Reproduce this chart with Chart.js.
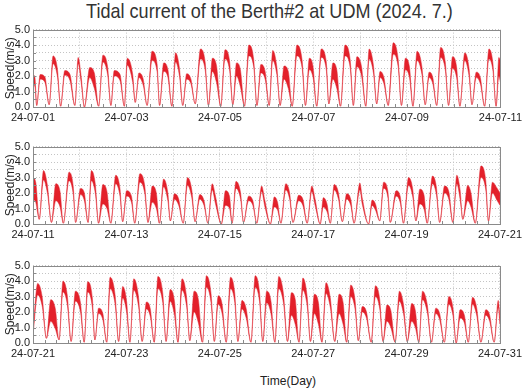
<!DOCTYPE html>
<html>
<head>
<meta charset="utf-8">
<script src="https://cdn.jsdelivr.net/npm/chart.js@4.4.0/dist/chart.umd.min.js"></script>
<style>
  html, body { margin: 0; padding: 0; background: #fff; }
  #page { position: relative; width: 526px; height: 391px; overflow: hidden; }
  .panel { position: absolute; left: 0; width: 526px; height: 107px; }
  #title {
    position: absolute; top: -1px; left: 33px; width: 473px; text-align: center;
    font-family: "Liberation Sans", Arial, sans-serif; font-size: 21px; color: #333;
    transform: scaleX(0.86); transform-origin: 236px 0;
  }
  #xlabel {
    position: absolute; top: 373px; left: 0; width: 576px; text-align: center;
    font-family: "Liberation Sans", Arial, sans-serif; font-size: 13px; color: #222;
    transform: scaleX(0.93); transform-origin: 288px 0;
  }
</style>
</head>
<body>
<div id="page">
  <div id="title">Tidal current of the Berth#2 at UDM (2024. 7.)</div>
  <div class="panel" style="top:20px"><canvas id="c1"></canvas></div>
  <div class="panel" style="top:137px"><canvas id="c2"></canvas></div>
  <div class="panel" style="top:256px"><canvas id="c3"></canvas></div>
  <div id="xlabel">Time(Day)</div>
</div>
<script>
// tick labels (one every 48 h)
const p1Labels = ['24-07-01', '24-07-03', '24-07-05', '24-07-07', '24-07-09', '24-07-11'];
const p2Labels = ['24-07-11', '24-07-13', '24-07-15', '24-07-17', '24-07-19', '24-07-21'];
const p3Labels = ['24-07-21', '24-07-23', '24-07-25', '24-07-27', '24-07-29', '24-07-31'];

// panel 1 : hours from 07-01 00:00, upper / lower edge of the speed band (m/s)
const p1Hours = [0, 1.0, 1.9, 3.7, 6.1, 8.3, 10.3, 12.5, 14.2, 16.3, 19.0, 21.5, 23.2, 24.7, 26.4,
  29.1, 31.5, 33.7, 35.9, 38.3, 40.0, 41.7, 44.7, 46.9, 48.4, 51.2, 52.5, 54.4, 56.6, 58.6,
  61.1, 63.7, 65.0, 67.1, 69.3, 71.3, 73.2, 75.2, 76.9, 78.9, 81.1, 83.3, 86.0, 88.4, 90.1,
  92.1, 94.2, 96.4, 98.6, 100.9, 102.6, 104.5, 106.5, 108.6, 110.8, 113.3, 115.0, 117.0, 119.2, 121.3,
  123.1, 125.2, 126.9, 128.9, 131.1, 133.1, 135.5, 138.2, 139.9, 141.9, 143.8, 145.7, 148.0, 150.6, 151.9,
  154.0, 156.0, 157.9, 160.2, 162.9, 164.5, 166.3, 168.7, 170.9, 172.6, 174.8, 176.5, 178.2, 180.2, 182.4,
  185.0, 187.5, 189.2, 191.2, 193.3, 195.1, 197.2, 199.7, 201.4, 203.4, 205.3, 207.3, 209.3, 211.7, 213.4,
  215.4, 217.5, 219.2, 221.7, 223.9, 225.4, 227.6, 229.7, 231.9, 234.1, 236.1, 237.8, 239.2, 240.0];
const p1Upper = [2.1, 1.9, 0.1, 2.1, 1.95, 0.15, 3.3, 2.5, 0.05, 2.35, 2.1, 0.1, 3.2, 2.0, 0.0,
  2.55, 2.2, 0.05, 3.35, 2.6, 0.1, 2.35, 2.1, 0.05, 3.15, 2.1, 0.3, 2.2, 1.8, 0.1,
  3.6, 2.8, 0.1, 2.85, 2.4, 0.05, 3.5, 2.5, 0.1, 2.15, 1.8, 0.2, 3.75, 2.9, 0.1,
  3.15, 2.7, 0.05, 3.7, 3.0, 0.15, 2.85, 2.4, 0.05, 4.0, 3.1, 0.1, 2.75, 2.3, 0.1,
  3.65, 2.6, 0.1, 2.65, 2.3, 0.05, 4.0, 3.0, 0.1, 3.15, 2.6, 0.05, 3.75, 2.9, 0.2,
  2.85, 2.4, 0.05, 4.0, 3.0, 0.1, 3.25, 2.6, 0.05, 3.75, 2.7, 0.2, 2.3, 1.9, 0.1,
  4.15, 3.1, 0.1, 3.15, 2.6, 0.05, 3.6, 2.6, 0.15, 2.25, 1.9, 0.1, 3.85, 2.9, 0.1,
  3.25, 2.6, 0.05, 3.5, 2.5, 0.15, 2.25, 1.9, 0.05, 3.75, 2.9, 0.05, 3.2, 3.0];
const p1Lower = [1.5, 1.3, 0.1, 1.8, 1.6, 0.15, 2.8, 2.0, 0.05, 2.05, 1.7, 0.1, 2.8, 1.6, 0.0,
  1.9, 1.2, 0.05, 2.9, 2.1, 0.1, 2.0, 1.7, 0.05, 2.7, 1.6, 0.3, 1.9, 1.4, 0.1,
  3.0, 2.3, 0.1, 2.3, 1.9, 0.05, 2.9, 2.0, 0.1, 1.8, 1.5, 0.2, 3.1, 2.4, 0.1,
  2.3, 1.6, 0.05, 3.1, 2.4, 0.15, 2.0, 1.3, 0.05, 3.3, 2.6, 0.1, 2.2, 1.8, 0.1,
  3.0, 2.1, 0.1, 1.8, 1.2, 0.05, 3.3, 2.5, 0.1, 2.4, 1.9, 0.05, 3.2, 2.4, 0.2,
  1.8, 1.2, 0.05, 3.3, 2.5, 0.1, 2.6, 2.0, 0.05, 3.1, 2.2, 0.2, 1.9, 1.5, 0.1,
  3.4, 2.6, 0.1, 2.4, 1.9, 0.05, 3.0, 2.1, 0.15, 1.9, 1.5, 0.1, 3.2, 2.4, 0.1,
  2.5, 1.9, 0.05, 3.0, 2.0, 0.15, 1.9, 1.5, 0.05, 3.1, 2.4, 0.05, 2.0, 1.6];

// panel 2 : hours from 07-11 00:00
const p2Hours = [0, 1.4, 3.2, 5.4, 7.4, 9.5, 11.7, 13.9, 15.6, 18.5, 20.7, 21.9, 24.4, 26.4, 28.3,
  30.0, 32.0, 33.7, 35.9, 38.0, 40.0, 42.5, 44.7, 46.1, 48.1, 50.6, 52.3, 54.9, 57.4, 59.1,
  61.3, 63.4, 65.0, 67.1, 69.3, 70.6, 72.7, 74.9, 77.2, 79.4, 81.6, 83.3, 85.7, 87.9, 89.9,
  92.1, 93.8, 96.8, 98.9, 101.0, 102.3, 104.3, 106.7, 108.2, 110.8, 113.0, 115.0, 117.5, 119.2, 122.0,
  124.0, 125.7, 127.4, 129.9, 131.9, 133.6, 136.5, 138.7, 140.9, 143.3, 145.0, 147.6, 149.2, 151.1, 152.8,
  154.8, 157.0, 159.0, 161.2, 163.3, 165.0, 168.0, 169.2, 172.5, 174.3, 176.0, 178.2, 180.2, 182.4, 183.6,
  186.6, 188.7, 190.4, 193.0, 195.1, 196.8, 198.8, 200.9, 202.6, 205.3, 207.3, 209.0, 211.5, 213.7, 215.8,
  217.8, 219.5, 220.9, 223.4, 225.1, 227.3, 230.2, 232.7, 234.1, 236.1, 238.6, 240.0];
const p2Upper = [3.0, 2.7, 0.3, 3.45, 2.5, 0.1, 2.6, 2.1, 0.05, 3.35, 2.4, 0.1, 2.3, 2.0, 0.1,
  3.45, 2.6, 0.05, 2.55, 2.1, 0.05, 3.15, 2.3, 0.15, 2.15, 1.8, 0.05, 3.25, 2.5, 0.1,
  2.45, 2.0, 0.05, 2.9, 2.0, 0.2, 1.95, 1.6, 0.05, 3.0, 2.2, 0.15, 1.9, 1.5, 0.05,
  2.6, 1.8, 0.0, 2.15, 1.8, 0.05, 2.75, 2.0, 0.1, 1.8, 1.5, 0.05, 2.45, 1.5, 0.0,
  1.75, 1.4, 0.05, 2.6, 2.0, 0.1, 1.85, 1.6, 0.05, 2.45, 1.6, 0.0, 1.7, 1.3, 0.05,
  2.55, 2.0, 0.15, 1.95, 1.6, 0.05, 2.65, 1.7, 0.0, 1.55, 1.3, 0.2, 2.7, 2.1, 0.1,
  2.15, 1.8, 0.05, 3.0, 2.3, 0.2, 2.25, 1.9, 0.05, 3.1, 2.4, 0.1, 2.45, 2.1, 0.1,
  3.15, 2.2, 0.3, 2.5, 2.0, 0.05, 3.75, 2.8, 0.2, 2.7, 2.3, 2.0];
const p2Lower = [1.6, 1.4, 0.3, 2.85, 2.0, 0.1, 1.5, 1.1, 0.05, 2.8, 1.9, 0.1, 1.9, 1.5, 0.1,
  2.8, 2.0, 0.05, 1.3, 1.0, 0.05, 2.6, 1.8, 0.15, 1.8, 1.4, 0.05, 2.7, 2.0, 0.1,
  1.4, 1.0, 0.05, 2.4, 1.5, 0.2, 1.6, 1.2, 0.05, 2.5, 1.7, 0.15, 1.6, 1.2, 0.05,
  2.2, 1.3, 0.0, 1.2, 1.0, 0.05, 2.3, 1.6, 0.1, 1.5, 1.2, 0.05, 2.1, 1.1, 0.0,
  1.1, 0.9, 0.05, 2.2, 1.6, 0.1, 1.5, 1.2, 0.05, 2.1, 1.2, 0.0, 1.1, 0.8, 0.05,
  2.2, 1.6, 0.15, 1.6, 1.2, 0.05, 2.2, 1.3, 0.0, 1.2, 0.9, 0.2, 2.3, 1.7, 0.1,
  1.8, 1.4, 0.05, 2.5, 1.8, 0.2, 1.3, 1.0, 0.05, 2.6, 1.9, 0.1, 2.0, 1.6, 0.1,
  2.6, 1.6, 0.3, 1.5, 1.1, 0.05, 3.0, 2.2, 0.2, 2.0, 1.5, 1.2];

// panel 3 : hours from 07-21 00:00
const p3Hours = [0, 2.4, 4.7, 6.9, 9.1, 11.5, 13.4, 15.4, 17.6, 19.6, 21.8, 24.4, 26.3,
  28.1, 30.5, 31.8, 33.7, 35.9, 37.9, 39.6, 42.2, 44.0, 46.1, 48.1, 49.8,
  51.8, 54.2, 56.1, 58.3, 60.3, 62.3, 64.2, 66.7, 68.4, 70.5, 72.7, 74.5,
  76.6, 78.9, 80.6, 82.8, 85.0, 87.1, 89.1, 91.5, 93.2, 95.2, 97.2, 99.3,
  101.5, 103.7, 105.3, 107.4, 109.6, 112.0, 114.2, 116.4, 118.1, 120.1, 122.3, 124.3,
  126.3, 128.7, 130.8, 132.8, 134.8, 136.7, 138.7, 140.9, 142.6, 144.6, 146.7, 148.5,
  150.6, 152.8, 155.1, 157.3, 159.4, 161.2, 163.3, 165.5, 167.2, 169.2, 171.4, 173.8,
  176.0, 178.2, 179.9, 181.9, 183.9, 186.1, 188.3, 190.4, 192.4, 194.6, 196.5, 198.3,
  200.2, 202.6, 204.8, 207.0, 209.0, 211.4, 213.7, 215.8, 217.5, 219.5, 221.7, 223.7,
  225.9, 228.0, 230.2, 232.7, 234.7, 237.0, 239.1, 240.0];
const p3Upper = [0.8, 3.85, 3.0, 0.3, 2.8, 2.2, 0.2, 4.0, 3.1, 0.1, 3.35, 2.6, 0.05,
  3.95, 2.9, 0.2, 2.25, 1.9, 0.05, 4.25, 3.1, 0.1, 3.65, 2.7, 0.05,
  4.15, 3.0, 0.1, 2.65, 2.2, 0.05, 4.3, 3.2, 0.1, 3.45, 2.7, 0.05,
  4.15, 3.0, 0.15, 3.35, 2.8, 0.05, 4.35, 3.2, 0.1, 3.05, 2.5, 0.05,
  4.25, 3.2, 0.1, 2.75, 2.2, 0.05, 4.35, 3.3, 0.1, 3.35, 2.7, 0.05,
  4.3, 3.2, 0.1, 3.25, 2.8, 0.05, 4.2, 3.0, 0.1, 3.15, 2.6, 0.05,
  3.9, 2.9, 0.1, 3.15, 2.6, 0.05, 3.75, 2.8, 0.15, 2.35, 2.0, 0.05,
  3.7, 2.8, 0.1, 2.45, 2.1, 0.05, 3.35, 2.5, 0.1, 2.55, 2.1, 0.05,
  3.35, 2.5, 0.05, 2.25, 1.9, 0.05, 3.0, 2.3, 0.0, 2.15, 1.8, 0.05,
  2.95, 2.3, 0.05, 2.15, 1.8, 0.05, 2.75, 1.6];
const p3Lower = [0.5, 3.1, 2.4, 0.3, 1.4, 0.9, 0.2, 3.3, 2.5, 0.1, 2.7, 2.0, 0.05,
  3.3, 2.3, 0.2, 1.9, 1.5, 0.05, 3.5, 2.5, 0.1, 2.9, 2.0, 0.05,
  3.4, 2.4, 0.1, 2.2, 1.7, 0.05, 3.5, 2.6, 0.1, 2.7, 1.8, 0.05,
  3.4, 2.4, 0.15, 2.0, 1.3, 0.05, 3.6, 2.6, 0.1, 2.5, 1.9, 0.05,
  3.5, 2.6, 0.1, 2.2, 1.6, 0.05, 3.6, 2.7, 0.1, 2.6, 1.9, 0.05,
  3.5, 2.6, 0.1, 1.8, 1.2, 0.05, 3.4, 2.4, 0.1, 1.9, 1.2, 0.05,
  3.2, 2.3, 0.1, 1.9, 1.2, 0.05, 3.0, 2.2, 0.15, 2.0, 1.6, 0.05,
  3.0, 2.2, 0.1, 1.4, 1.0, 0.05, 2.7, 1.9, 0.1, 1.4, 1.0, 0.05,
  2.8, 2.0, 0.05, 1.9, 1.5, 0.05, 2.5, 1.8, 0.0, 1.6, 1.3, 0.05,
  2.5, 1.8, 0.05, 1.8, 1.4, 0.05, 2.3, 1.2];

const BAND_RED = '#e3202a';
const EDGE_RED = 'rgba(226, 45, 55, 0.5)';

Chart.defaults.font.family = 'Arial, "Liberation Sans", sans-serif';
Chart.defaults.font.size = 11;
Chart.defaults.color = '#222';

// frame round the plot area + small inward tick marks
const frameTicks = {
    id: 'frameTicks',
    afterDraw(chart) {
        const { ctx, chartArea: a, scales } = chart;
        ctx.save();
        ctx.strokeStyle = '#8a8a8a';
        ctx.lineWidth = 1;
        ctx.beginPath();
        scales.x.ticks.forEach(t => {
            const px = Math.round(scales.x.getPixelForValue(t.value)) + 0.5;
            ctx.moveTo(px, a.bottom);
            ctx.lineTo(px, a.bottom - 3);
        });
        scales.y.ticks.forEach(t => {
            const py = Math.round(scales.y.getPixelForValue(t.value)) + 0.5;
            ctx.moveTo(a.left, py);
            ctx.lineTo(a.left + 3, py);
        });
        ctx.stroke();
        ctx.strokeRect(Math.round(a.left) + 0.5, Math.round(a.top) + 0.5,
            Math.round(a.right - a.left), Math.round(a.bottom - a.top));
        ctx.restore();
    }
};

function makePanel(canvasId, hours, upper, lower, labels) {
    const ctx = document.getElementById(canvasId);
    const up = hours.map((h, i) => ({ x: h, y: upper[i] }));
    const lo = hours.map((h, i) => ({ x: h, y: lower[i] }));

    return new Chart(ctx, {
        type: 'line',
        data: {
            datasets: [
                { data: up, borderColor: EDGE_RED, borderWidth: 1, pointRadius: 0, fill: false,
                  cubicInterpolationMode: 'monotone' },
                { data: lo, borderColor: EDGE_RED, borderWidth: 1, pointRadius: 0, fill: '-1',
                  backgroundColor: BAND_RED, cubicInterpolationMode: 'monotone' }
            ]
        },
        options: {
            responsive: true,
            maintainAspectRatio: false,
            animation: false,
            layout: { padding: { top: 4, right: 20, bottom: 0, left: 0 } },
            plugins: { legend: { display: false }, tooltip: { enabled: false } },
            scales: {
                x: {
                    type: 'linear',
                    min: 0,
                    max: 240,
                    afterFit: s => { s.height = 20; },
                    ticks: {
                        stepSize: 6,
                        autoSkip: false,
                        maxRotation: 0,
                        padding: 4,
                        font: { size: 11 },
                        color: '#222',
                        callback: v => (v % 48 === 0 ? labels[v / 48] : '')
                    },
                    grid: {
                        drawTicks: false,
                        color: c => (c.tick && c.tick.value % 24 === 0 ? '#c4c4c4' : 'rgba(0,0,0,0)')
                    },
                    border: { display: false, dash: [1, 2] }
                },
                y: {
                    min: 0,
                    max: 5,
                    afterFit: s => { s.width = 33; },
                    ticks: {
                        stepSize: 0.5,
                        autoSkip: false,
                        padding: 3,
                        font: { size: 11 },
                        color: '#222',
                        callback: v => (Math.abs(v - Math.round(v)) < 1e-6 ? v.toFixed(1) : '')
                    },
                    title: {
                        display: true,
                        text: 'Speed(m/s)',
                        font: { size: 12 },
                        color: '#222',
                        padding: { top: 3, bottom: 0 }
                    },
                    grid: { drawTicks: false, color: '#c4c4c4' },
                    border: { display: false, dash: [1, 2] }
                }
            }
        },
        plugins: [frameTicks]
    });
}

makePanel('c1', p1Hours, p1Upper, p1Lower, p1Labels);
makePanel('c2', p2Hours, p2Upper, p2Lower, p2Labels);
makePanel('c3', p3Hours, p3Upper, p3Lower, p3Labels);
</script>
</body>
</html>
